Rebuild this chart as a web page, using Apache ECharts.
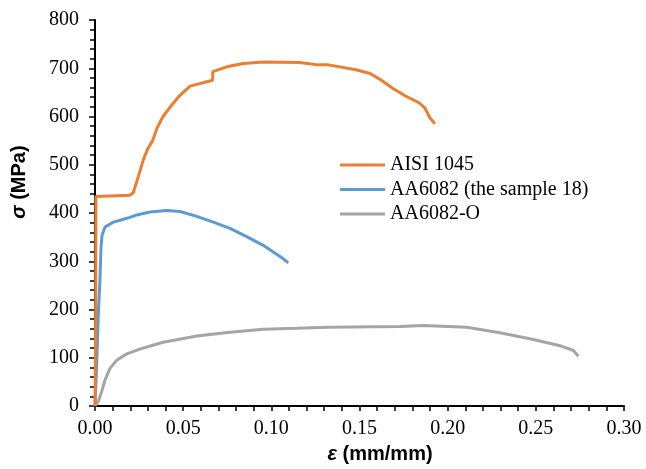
<!DOCTYPE html>
<html>
<head>
<meta charset="utf-8">
<script src="https://cdn.jsdelivr.net/npm/echarts@6/dist/echarts.min.js"></script>
<style>
html,body{margin:0;padding:0;background:#fff;overflow:hidden;}
#c{width:646px;height:469px;}
</style>
</head>
<body>
<div id="c"></div>
<script>
const seriesNames = ['AISI 1045', 'AA6082 (the sample 18)', 'AA6082-O'];
const seriesColors = ['#ED7D31', '#5B9BD5', '#A5A5A5'];

const aisiX = [0, 0.0004, 0.0005, 0.0198, 0.0217, 0.0246, 0.0274, 0.0299, 0.0327, 0.0353, 0.0384, 0.0425, 0.0472, 0.0539, 0.0667, 0.0668, 0.0747, 0.0841, 0.0955, 0.116, 0.1266, 0.1323, 0.148, 0.156, 0.1616, 0.169, 0.1768, 0.184, 0.187, 0.190, 0.1928];
const aisiY = [0, 200, 434, 437, 442, 476, 510, 533, 550, 577, 599, 619, 640, 663, 675, 693, 703, 710, 713, 712, 707, 707, 697, 689, 677, 658, 641, 628, 618, 597, 585];

const aaX = [0, 0.001, 0.0019, 0.0028, 0.0034, 0.004, 0.0057, 0.0104, 0.0142, 0.0198, 0.0236, 0.0312, 0.0407, 0.0482, 0.0577, 0.0671, 0.0766, 0.086, 0.0954, 0.1049, 0.1096];
const aaY = [0, 91, 192, 260, 328, 354, 371, 381, 385, 391, 396, 402, 405, 403, 393, 381, 368, 351, 333, 310, 297];

const aaoX = [0, 0.0019, 0.0038, 0.0057, 0.0085, 0.0123, 0.018, 0.0255, 0.0387, 0.0577, 0.0766, 0.0954, 0.1144, 0.1323, 0.173, 0.186, 0.2108, 0.2297, 0.2486, 0.2637, 0.2713, 0.2741];
const aaoY = [0, 10, 30, 54, 78, 95, 108, 118, 132, 145, 153, 159, 161, 163, 165, 167, 163, 152, 138, 125, 115, 103];

const xTicks = [0, 0.05, 0.10, 0.15, 0.20, 0.25, 0.30];
const yTicks = [0, 100, 200, 300, 400, 500, 600, 700, 800];

function pairs(xs, ys) { return xs.map((x, i) => [x, ys[i]]); }

const chart = echarts.init(document.getElementById('c'), null, {renderer: 'canvas', width: 646, height: 469});
const serif = '"Liberation Serif", "Times New Roman", serif';
const sans = '"Liberation Sans", Arial, sans-serif';

const allX = [aisiX, aaX, aaoX];
const allY = [aisiY, aaY, aaoY];

chart.setOption({
  animation: false,
  backgroundColor: '#fff',
  grid: {left: 95, right: 22, top: 20, bottom: 54, containLabel: false},
  legend: {
    orient: 'vertical',
    left: 340, top: 155,
    padding: 0,
    itemWidth: 45, itemHeight: 3,
    itemGap: 4.5,
    icon: 'rect',
    textStyle: {fontFamily: serif, fontSize: 20, color: '#000', lineHeight: 20},
    data: seriesNames
  },
  xAxis: {
    type: 'value',
    min: xTicks[0], max: xTicks[xTicks.length - 1], interval: 0.05,
    name: '{g|ε} (mm/mm)',
    nameLocation: 'middle',
    nameGap: 38,
    nameTextStyle: {
      fontFamily: sans, fontSize: 20, fontWeight: 'bold', color: '#000',
      padding: [0, 0, 0, 41],
      rich: {g: {fontFamily: sans, fontSize: 20, fontWeight: 'bold', fontStyle: 'italic', color: '#000'}}
    },
    axisLine: {show: true, onZero: false, lineStyle: {color: '#000', width: 2}},
    axisTick: {show: true, inside: false, length: 5, lineStyle: {color: '#000', width: 1.5}},
    minorTick: {show: true, splitNumber: 5, length: 5, lineStyle: {color: '#000', width: 1.5}},
    splitLine: {show: false},
    minorSplitLine: {show: false},
    axisLabel: {
      fontFamily: serif, fontSize: 20, color: '#000', margin: 13,
      formatter: v => v.toFixed(2)
    }
  },
  yAxis: {
    type: 'value',
    min: yTicks[0], max: yTicks[yTicks.length - 1], interval: 100,
    name: '{g|σ} (MPa)',
    nameLocation: 'middle',
    nameRotate: 90,
    nameGap: 66,
    nameTextStyle: {
      fontFamily: sans, fontSize: 20, fontWeight: 'bold', color: '#000',
      padding: [0, 0, 0, 62],
      rich: {g: {fontFamily: sans, fontSize: 20, fontWeight: 'bold', fontStyle: 'italic', color: '#000'}}
    },
    axisLine: {show: true, onZero: false, lineStyle: {color: '#000', width: 2}},
    axisTick: {show: true, inside: false, length: 6, lineStyle: {color: '#000', width: 1.5}},
    minorTick: {show: true, splitNumber: 5, length: 5, lineStyle: {color: '#000', width: 1.5}},
    splitLine: {show: false},
    minorSplitLine: {show: false},
    axisLabel: {fontFamily: serif, fontSize: 20, color: '#000', margin: 16}
  },
  series: seriesNames.map((n, i) => ({
    name: n,
    type: 'line',
    showSymbol: false,
    symbol: 'none',
    color: seriesColors[i],
    lineStyle: {color: seriesColors[i], width: 3},
    itemStyle: {color: seriesColors[i]},
    data: pairs(allX[i], allY[i]),
    z: 3 - i
  }))
});
</script>
</body>
</html>
